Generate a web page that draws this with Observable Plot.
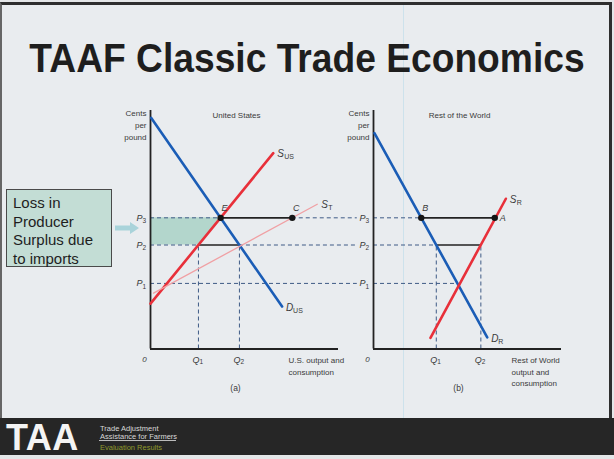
<!DOCTYPE html>
<html>
<head>
<meta charset="utf-8">
<script src="https://cdn.jsdelivr.net/npm/d3@7"></script>
<script src="https://cdn.jsdelivr.net/npm/@observablehq/plot@0.6"></script>
<style>
  body { margin: 0; background: #e4e6e8; }
  #slide { position: relative; width: 614px; height: 459px; overflow: hidden; background: #e4e6e8; font-family: "Liberation Sans", Arial, sans-serif; }
  #frame { position: absolute; left: 0; top: 2px; width: 607px; height: 416px; background: #e9ecef; border-top: 3px solid #2e2e2e; border-left: 2px solid #666; border-right: 3px solid #2e2e2e; }
  #ghostline { position: absolute; left: 403px; top: 5px; width: 1px; height: 413px; background: #cde2ec; }
  #title { position: absolute; left: 0; width: 614px; top: 35px; text-align: center; font-weight: bold; font-size: 41px; color: #1e1e1e; transform: scaleX(0.907); transform-origin: 307px 0; white-space: nowrap; }
  #chart { position: absolute; left: 0; top: 0; }
  #legend { position: absolute; left: 6px; top: 189px; width: 98px; height: 76px; background: #c3ddd5; border: 1.5px solid #4a4a4a; padding: 0 0 0 6px; font-size: 15px; line-height: 18.6px; color: #1e1e1e; }
  #legend div { padding-top: 4px; }
  #arrow { position: absolute; left: 113px; top: 221px; }
  #footer { position: absolute; left: 0; top: 418px; width: 614px; height: 37px; background: #262626; }
  #taa { position: absolute; left: 6px; top: 2px; font-weight: bold; font-size: 36px; line-height: 36px; color: #f4f4f4; letter-spacing: 0.5px; }
  .small { position: absolute; left: 100px; font-size: 7.5px; color: #d8d8d8; white-space: nowrap; }
</style>
</head>
<body>
<div id="slide">
  <div id="frame"></div>
  <div id="ghostline"></div>
  <div id="title">TAAF Classic Trade Economics</div>
  <div id="chart"></div>
  <div id="legend"><div>Loss in<br>Producer<br>Surplus due<br>to imports</div></div>
  <svg id="arrow" width="28" height="14"><polygon points="2,4.5 17,4.5 17,1 26,7 17,13 17,9.5 2,9.5" fill="#a9d3da"/></svg>
  <div id="footer">
    <div id="taa">TAA</div>
    <div class="small" style="top:6px">Trade Adjustment</div>
    <div class="small" style="top:14px">Assistance for Farmers</div>
    <div style="position:absolute;left:99px;top:22px;width:77px;height:1px;background:#bbb"></div>
    <div class="small" style="top:25px;color:#8f9a2c">Evaluation Results</div>
  </div>
</div>
<script>
// ---- data (quantity, cents per pound) ----
const panels = ["United States", "Rest of the World"];
const panelTags = ["(a)", "(b)"];
const xTitles = ["U.S. output and\nconsumption", "Rest of World\noutput and\nconsumption"];
const priceSubs = ["1", "2", "3"];
const prices = [27.5, 43.6, 55];          // P1, P2, P3
const qSubs = ["1", "2"];

// curve endpoints [quantity, price]
const usDemand = [[0.4, 96.9], [70, 17.8]];
const usSupply = [[0, 19], [65.3, 82.1]];
const usTradeSupply = [[1.6, 23.4], [88.7, 60.7]];
const rowDemand = [[0.5, 90.5], [60.5, 4.9]];
const rowSupply = [[30.3, 4.7], [70.4, 63]];

// key quantities
const usQ = [25.5, 47.3];     // US supply / demand at P2
const usE = 37.3, usC = 75.4; // E and C at P3
const rowQ = [33.4, 57.1];    // RoW demand / supply at P2
const rowB = 25.4, rowA = 64.5, rowEq = 45.3;
const bridge = 110;           // price lines run on to the RoW axis

// ---- derived tables ----
const [US, ROW] = panels;
const [P1, P2, P3] = prices;
const colors = {demand: "#1b5db6", supply: "#e8303a", trade: "#f0a0a4"};
const curves = [
  {panel: US, kind: "demand", name: "D", sub: "US", pts: usDemand},
  {panel: US, kind: "supply", name: "S", sub: "US", pts: usSupply},
  {panel: US, kind: "trade", name: "S", sub: "T", pts: usTradeSupply},
  {panel: ROW, kind: "demand", name: "D", sub: "R", pts: rowDemand},
  {panel: ROW, kind: "supply", name: "S", sub: "R", pts: rowSupply}
];
const curveRows = curves.flatMap((c, i) => c.pts.map(([q, p]) => ({panel: c.panel, id: i, kind: c.kind, q, p})));
const curveEnds = curves.map(c => ({panel: c.panel, name: c.name, sub: c.sub, q: c.pts[1][0], p: c.pts[1][1]}));

const dashH = [
  {panel: US, p: P3, q1: 0, q2: usE}, {panel: US, p: P3, q1: usC, q2: bridge},
  {panel: US, p: P2, q1: 0, q2: usQ[0]}, {panel: US, p: P2, q1: usQ[1], q2: bridge},
  {panel: US, p: P1, q1: 0, q2: bridge},
  {panel: ROW, p: P3, q1: 0, q2: rowB}, {panel: ROW, p: P2, q1: 0, q2: rowQ[0]},
  {panel: ROW, p: P1, q1: 0, q2: rowEq}
];
const solidH = [
  {panel: US, p: P3, q1: usE, q2: usC}, {panel: US, p: P2, q1: usQ[0], q2: usQ[1]},
  {panel: ROW, p: P3, q1: rowB, q2: rowA}, {panel: ROW, p: P2, q1: rowQ[0], q2: rowQ[1]}
];
const dashV = [...usQ.map(q => ({panel: US, q})), ...rowQ.map(q => ({panel: ROW, q}))];
const points = [
  {panel: US, q: usE, p: P3, label: "E"}, {panel: US, q: usC, p: P3, label: "C"},
  {panel: ROW, q: rowB, p: P3, label: "B"}, {panel: ROW, q: rowA, p: P3, label: "A"}
];
const lossArea = [{panel: US, q: usQ[0], p: P2}, {panel: US, q: usE, p: P3}];
const pLabels = panels.flatMap(panel => prices.map((p, i) => ({panel, p, sub: priceSubs[i]})));
const qLabels = [...usQ.map((q, i) => ({panel: US, q, sub: qSubs[i]})), ...rowQ.map((q, i) => ({panel: ROW, q, sub: qSubs[i]}))];
const panelRows = panels.map((panel, i) => ({panel, tag: panelTags[i], xt: xTitles[i]}));

const ink = "#3a3a3a";
const dash = {stroke: "#3f5b86", strokeWidth: 1, strokeDasharray: "4,3"};

const chart = Plot.plot({
  width: 614, height: 400,
  marginTop: 110, marginBottom: 51.5, marginLeft: 150, marginRight: 53,
  x: {domain: [0, 100], axis: null},
  y: {domain: [0, 100], axis: null},
  fx: {domain: panels, axis: null, paddingInner: 0.157, paddingOuter: 0},
  style: {background: "transparent", fontFamily: "'Liberation Sans', Arial, sans-serif", overflow: "visible"},
  marks: [
    Plot.areaX(lossArea, {fx: "panel", y: "p", x1: 0, x2: "q", fill: "#b3d6cc"}),
    Plot.ruleY(dashH, {fx: "panel", y: "p", x1: "q1", x2: "q2", ...dash}),
    Plot.ruleX(dashV, {fx: "panel", x: "q", y1: 0, y2: P2, ...dash}),
    Plot.ruleY(solidH, {fx: "panel", y: "p", x1: "q1", x2: "q2", stroke: "#222", strokeWidth: 1.6}),
    Plot.ruleX(panels, {fx: d => d, x: 0, y1: 0, y2: 100, stroke: "#222", strokeWidth: 1.8}),
    Plot.ruleY(panels, {fx: d => d, y: 0, x1: 0, x2: 100, stroke: "#222", strokeWidth: 2.2}),
    Plot.line(curveRows, {fx: "panel", x: "q", y: "p", z: "id", stroke: d => colors[d.kind], strokeWidth: d => d.kind === "trade" ? 1.3 : 2.6}),
    Plot.dot(points, {fx: "panel", x: "q", y: "p", r: 3.2, fill: "#151515"}),
    Plot.text(points.filter(d => d.label !== "A"), {fx: "panel", x: "q", y: "p", text: "label", dx: 4, dy: -10, fontSize: 9, fontStyle: "italic", fill: ink}),
    Plot.text(points.filter(d => d.label === "A"), {fx: "panel", x: "q", y: "p", text: "label", dx: 5, textAnchor: "start", fontSize: 9, fontStyle: "italic", fill: ink}),
    // curve labels
    Plot.text(curveEnds, {fx: "panel", x: "q", y: "p", text: "name", dx: 4, dy: 1, textAnchor: "start", fontSize: 10, fontStyle: "italic", fill: ink}),
    Plot.text(curveEnds, {fx: "panel", x: "q", y: "p", text: "sub", dx: 11, dy: 4, textAnchor: "start", fontSize: 7, fill: ink}),
    // price labels
    Plot.text(pLabels, {fx: "panel", x: 0, y: "p", text: () => "P", dx: -8, textAnchor: "end", fontSize: 9, fontStyle: "italic", fill: ink}),
    Plot.text(pLabels, {fx: "panel", x: 0, y: "p", text: "sub", dx: -8, dy: 3, textAnchor: "start", fontSize: 6.5, fill: ink}),
    // quantity labels
    Plot.text(qLabels, {fx: "panel", x: "q", y: 0, text: () => "Q", dx: 1, dy: 11, textAnchor: "end", fontSize: 9, fontStyle: "italic", fill: ink}),
    Plot.text(qLabels, {fx: "panel", x: "q", y: 0, text: "sub", dx: 1, dy: 13, textAnchor: "start", fontSize: 6.5, fill: ink}),
    Plot.text(panels, {fx: d => d, x: 0, y: 0, text: () => "0", dx: -6, dy: 10, fontSize: 8, fontStyle: "italic", fill: ink}),
    // panel titles and annotations
    Plot.text(panelRows, {fx: "panel", text: "panel", frameAnchor: "top", dx: -8, dy: 2, fontSize: 8, fill: ink}),
    Plot.text(panelRows, {fx: "panel", text: () => "Cents\nper\npound", frameAnchor: "top-left", textAnchor: "end", lineAnchor: "top", lineHeight: 1.5, dx: -4, dy: -3, fontSize: 8, fill: ink}),
    Plot.text(panelRows, {fx: "panel", text: "xt", frameAnchor: "bottom-right", textAnchor: "start", lineAnchor: "top", lineHeight: 1.45, dx: -50, dy: 6, fontSize: 8, fill: ink}),
    Plot.text(panelRows, {fx: "panel", text: "tag", frameAnchor: "bottom", dx: -9, dy: 42, fontSize: 8.5, fill: ink})
  ]
});
document.getElementById("chart").appendChild(chart);
</script>
</body>
</html>
